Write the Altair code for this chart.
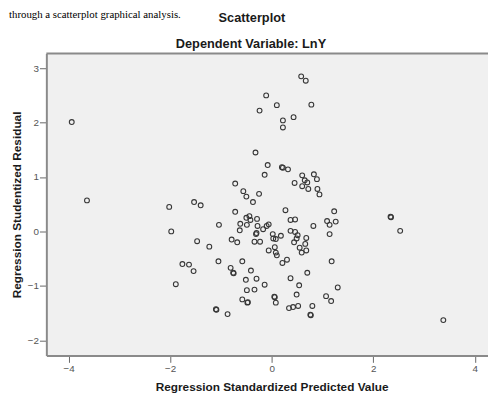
import altair as alt
import pandas as pd

# Regression standardized predicted value (x) and studentized residual (y)
pred = [-3.94, -3.64, -2.02, -1.98, -1.53, -1.40, -1.89, -1.76, -1.63, -1.54,
        -1.47, -1.23, -1.04, -1.05, -1.10, -1.09, -0.87, -0.81, -0.76, -0.75,
        -0.79, -0.68, -0.72, -0.72, -0.56, -0.50, -0.37, -0.25, -0.32, -0.08,
        -0.14, -0.62, -0.63, -0.50, -0.44, -0.42, -0.49, -0.29, -0.28, -0.17,
        -0.10, -0.06, -0.30, -0.31, 0.02, -0.34, -0.23, 0.03, 0.08, 0.18,
        -0.58, -0.41, -0.51, -0.30, -0.14, -0.49, -0.34, -0.58, -0.48, -0.47,
        -0.06, 0.06, 0.08, 0.10, 0.21, 0.30, 0.05, 0.06, 0.08, 0.37,
        0.54, 0.49, 0.70, 0.34, 0.42, 0.52, 0.80, 0.76, 0.77, 1.18,
        1.30, 1.07, 1.17, 0.27, 0.37, 0.46, 0.37, 0.46, 0.51, 0.49,
        0.44, 0.55, 0.59, 0.66, 0.68, 0.68, 0.82, 1.09, 1.14, 1.23,
        1.26, 1.14, 0.45, 0.60, 0.65, 0.70, 0.60, 0.72, 0.83, 0.89,
        0.90, 0.94, 0.20, 0.22, 0.32, 0.58, 0.67, -0.11, 0.10, -0.24,
        0.78, 0.43, 0.22, 0.22, 2.34, 2.35, 2.53, 3.38]
resid = [2.01, 0.57, 0.45, 0.00, 0.54, 0.48, -0.97, -0.60, -0.61, -0.73,
         -0.18, -0.28, 0.12, -0.55, -1.43, -1.44, -1.52, -0.67, -0.76, -0.77,
         -0.15, -0.20, 0.88, 0.36, 0.74, 0.64, 0.54, 0.69, 1.45, 1.22,
         1.04, 0.14, 0.02, 0.25, 0.28, 0.21, 0.12, 0.23, 0.10, 0.04,
         0.10, 0.13, -0.03, -0.05, -0.05, -0.19, -0.19, -0.13, -0.14, -0.08,
         -0.55, -0.72, -0.89, -0.87, -0.98, -1.08, -1.07, -1.25, -1.31, -1.30,
         -0.35, -0.29, -0.39, -0.44, -0.58, -0.52, -1.20, -1.21, -1.31, -0.86,
         -0.99, -1.16, -0.76, -1.41, -1.39, -1.37, -1.37, -1.53, -1.54, -0.55,
         -1.03, -1.19, -1.28, 0.39, 0.21, 0.22, 0.01, -0.01, -0.07, -0.13,
         -0.20, -0.30, -0.39, -0.23, -0.35, -0.12, 0.10, 0.19, 0.12, 0.37,
         0.18, -0.05, 0.89, 1.03, 0.94, 0.90, 0.83, 0.78, 1.05, 0.96,
         0.78, 0.68, 1.18, 1.17, 1.14, 2.85, 2.77, 2.50, 2.32, 2.22,
         2.33, 2.10, 2.04, 1.91, 0.27, 0.26, 0.01, -1.63]

x_ticks = [-4, -2, 0, 2, 4]
y_ticks = [-2, -1, 0, 1, 2, 3]
header_text = ["through a scatterplot graphical analysis."]
title_text = ["Scatterplot"]
subtitle_text = ["Dependent Variable: LnY"]

df = pd.DataFrame({"pred": pred, "resid": resid})
W, H = 449, 307
FONT = "Liberation Sans"

points = alt.Chart(df).mark_point(
    shape="circle", filled=False, color="#363636", size=24, strokeWidth=1.1, opacity=1
).encode(
    x=alt.X("pred:Q",
            scale=alt.Scale(domain=[-4.44, 4.26], nice=False, zero=False),
            axis=alt.Axis(values=x_ticks, title="Regression Standardized Predicted Value",
                          titleX=229, titlePadding=9)),
    y=alt.Y("resid:Q",
            scale=alt.Scale(domain=[-2.28, 3.27], nice=False, zero=False),
            axis=alt.Axis(values=y_ticks, title="Regression Studentized Residual",
                          titlePadding=4)),
)

top_line = alt.Chart(pd.DataFrame({"k": [0]})).mark_rule(
    color="#8a8a8a", strokeWidth=2
).encode(x=alt.value(0), x2=alt.value(W), y=alt.value(0))

header = alt.Chart(pd.DataFrame({"t": header_text})).mark_text(
    font="Liberation Serif", fontSize=11, align="left", baseline="alphabetic", color="#000"
).encode(x=alt.value(-38), y=alt.value(-36), text="t:N")

title = alt.Chart(pd.DataFrame({"t": title_text})).mark_text(
    font=FONT, fontSize=13, fontWeight="bold", align="center", baseline="middle",
    color="#1a1a1a"
).encode(x=alt.value(209), y=alt.value(-36), text="t:N")

subtitle = alt.Chart(pd.DataFrame({"t": subtitle_text})).mark_text(
    font=FONT, fontSize=13, fontWeight="bold", align="center", baseline="middle",
    color="#1a1a1a"
).encode(x=alt.value(208), y=alt.value(-10), text="t:N")

chart = alt.layer(points, top_line, header, title, subtitle).properties(
    width=W, height=H,
    autosize=alt.AutoSizeParams(type="none"),
    padding={"left": 39, "top": 43, "right": 0, "bottom": 39},
).configure_view(
    fill="#f0f0f0", stroke=None
).configure_axis(
    grid=False, domainColor="#8a8a8a", domainWidth=2, tickColor="#666", tickSize=7,
    tickWidth=1, labelFont=FONT, labelFontSize=10, labelColor="#555", labelPadding=1,
    titleFont=FONT, titleFontSize=12, titleFontWeight="bold", titleColor="#1a1a1a",
)

chart.save("out.html", embed_options={"renderer": "svg", "actions": False})
